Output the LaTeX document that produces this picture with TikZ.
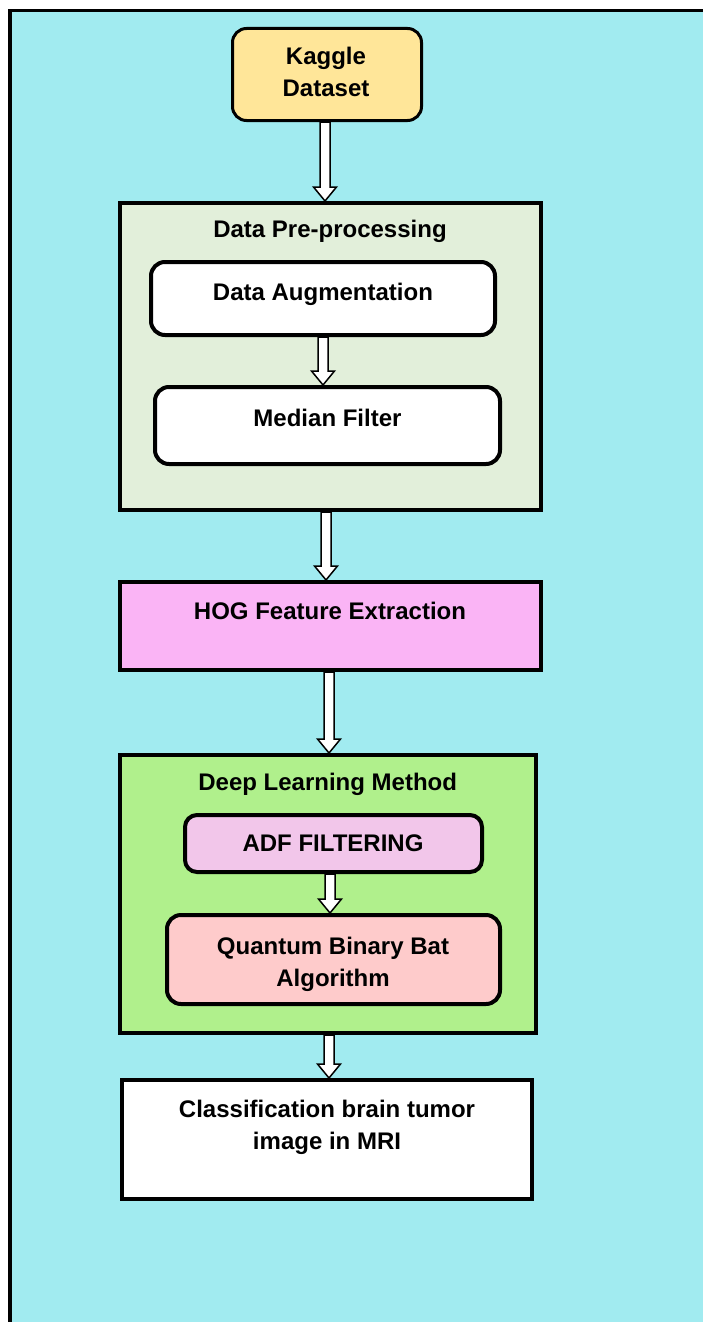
\documentclass[tikz,border=0pt]{standalone}
\usepackage{fontspec}
\setmainfont{Liberation Sans}
\usetikzlibrary{calc}
\definecolor{bgcyan}{RGB}{161,235,240}
\definecolor{kagfill}{RGB}{255,230,153}
\definecolor{dppfill}{RGB}{226,239,218}
\definecolor{hogfill}{RGB}{250,180,245}
\definecolor{dlfill}{RGB}{176,240,140}
\definecolor{adffill}{RGB}{242,198,234}
\definecolor{qbafill}{RGB}{254,203,203}
\begin{document}
\begin{tikzpicture}[x=1pt,y=-1pt,
  sqbox/.style={draw=black, line width=4pt, inner sep=0pt},
  rbox/.style={draw=black, line width=4pt, inner sep=0pt, rounded corners=14pt},
  txt/.style={font=\fontsize{24}{31.5}\selectfont\bfseries, anchor=base, inner sep=0pt, align=center},
  barrow/.style={draw=black, fill=white, line width=1.5pt, line join=miter,
    to path={let \p1=(\tikztostart), \p2=(\tikztotarget) in
      (\x1-5pt,\y1) -- (\x1-5pt,\y2+14pt) -- (\x1-11.5pt,\y2+14pt) -- (\x1,\y2)
      -- (\x1+11.5pt,\y2+14pt) -- (\x1+5pt,\y2+14pt) -- (\x1+5pt,\y1) -- cycle}}]
\useasboundingbox (0,0) rectangle (703,1322);
% background frame
\fill[bgcyan] (12,12) rectangle (703,1322);
\fill[black] (8,9) rectangle (12,1322);
\fill[black] (8,9) rectangle (703,12);
% boxes
\node[rbox, line width=3pt, fill=kagfill, minimum width=189pt, minimum height=92pt] (kag) at (327,74.5) {};
\node[sqbox, fill=dppfill, minimum width=421pt, minimum height=307pt] (dpp) at (330.5,356.5) {};
\node[rbox, fill=white, minimum width=344pt, minimum height=73pt] (aug) at (323,298.5) {};
\node[rbox, fill=white, minimum width=345pt, minimum height=77pt] (med) at (327.5,425.5) {};
\node[sqbox, fill=hogfill, minimum width=421pt, minimum height=88pt] (hog) at (330.5,626) {};
\node[sqbox, fill=dlfill, minimum width=416pt, minimum height=278pt] (dl) at (328,894) {};
\node[rbox, rounded corners=12pt, fill=adffill, minimum width=297pt, minimum height=57pt] (adf) at (333.5,843.5) {};
\node[rbox, fill=qbafill, minimum width=333pt, minimum height=89pt] (qba) at (333.5,959.5) {};
\node[sqbox, fill=white, minimum width=410pt, minimum height=119pt] (cls) at (327,1139.5) {};
% texts (base anchor = baseline of the last line)
\node[txt] (tkag) at (326,96) {Kaggle\\Dataset};
\node[txt] (tdpp) at (330,237) {Data Pre-processing};
\node[txt] (taug) at (323,300) {Data Augmentation};
\node[txt] (tmed) at (327.5,426) {Median Filter};
\node[txt] (thog) at (330,619) {HOG Feature Extraction};
\node[txt] (tdl) at (327.7,790) {Deep Learning Method};
\node[txt] (tadf) at (333,851) {ADF FILTERING};
\node[txt] (tqba) at (333,986) {Quantum Binary Bat\\Algorithm};
\node[txt] (tcls) at (327,1149) {Classification brain tumor\\image in MRI};
% arrows
\draw[barrow] ([xshift=-2pt]kag.south) to ([xshift=-2pt]kag.south |- dpp.north);
\draw[barrow] (aug.south) to (aug.south |- med.north);
\draw[barrow] ([xshift=-4.5pt]dpp.south) to ([xshift=-4.5pt]dpp.south |- hog.north);
\draw[barrow] ([xshift=-1.5pt]hog.south) to ([xshift=-1.5pt]hog.south |- dl.north);
\draw[barrow] ([xshift=-3.5pt]adf.south) to ([xshift=-3.5pt]adf.south |- qba.north);
\draw[barrow] ([xshift=1pt]dl.south) to ([xshift=1pt]dl.south |- cls.north);
\end{tikzpicture}
\end{document}
